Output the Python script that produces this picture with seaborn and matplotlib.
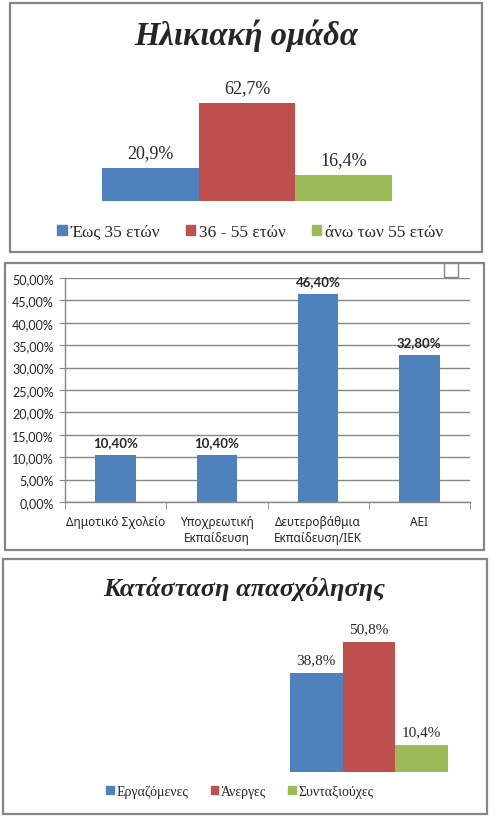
import matplotlib
matplotlib.use("Agg")
import matplotlib.pyplot as plt
import matplotlib.patches as mpatches
from matplotlib.ticker import MultipleLocator, FuncFormatter
import seaborn as sns

# --- data -------------------------------------------------------------
age_groups = ["Έως 35 ετών", "36 - 55 ετών", "άνω των 55 ετών"]
age_values = [20.9, 62.7, 16.4]

edu_levels = ["Δημοτικό Σχολείο", "Υποχρεωτική\nΕκπαίδευση",
              "Δευτεροβάθμια\nΕκπαίδευση/ΙΕΚ", "ΑΕΙ"]
edu_values = [0.104, 0.104, 0.464, 0.328]

work_status = ["Εργαζόμενες", "Άνεργες", "Συνταξιούχες"]
work_values = [38.8, 50.8, 10.4]

# --- style ------------------------------------------------------------
BLUE, RED, GREEN = "#4F81BD", "#C0504D", "#9BBB59"
GREY = "#868686"
SERIF = "Liberation Serif"
SANS = "Noto Sans"
NUM = ["Lato", "DejaVu Sans"]   # digits only, Calibri-like

W, H = 498, 820
sns.set_style("white")
plt.rcParams["font.family"] = [SERIF, "DejaVu Sans"]

fig = plt.figure(figsize=(W / 100, H / 100), dpi=100)


def px_box(left, top, right, bottom):
    """pixel box -> figure fraction rect"""
    return [left / W, 1 - bottom / H, (right - left) / W, (bottom - top) / H]


def frame(left, top, right, bottom):
    l, b, w, h = px_box(left, top, right, bottom)
    fig.patches.append(mpatches.Rectangle((l, b), w, h, transform=fig.transFigure,
                                          fill=False, edgecolor=GREY, lw=1.6))


def pct(v, decimals=1):
    return f"{v:.{decimals}f}%".replace(".", ",")


def grouped_panel(ax, cats, vals, ymax, label_size):
    sns.barplot(x=cats, y=vals, hue=cats, palette=[BLUE, RED, GREEN],
                width=1.0, saturation=1, legend=False, linewidth=0, ax=ax)
    ax.set_xlim(-0.5, 2.5)
    ax.set_ylim(0, ymax)
    ax.axis("off")
    for cont, v in zip(ax.containers, vals):
        ax.bar_label(cont, labels=[pct(v)], padding=5, fontsize=label_size,
                     family=SERIF)


def legend_row(cats, x, y, size, spacing):
    handles = [mpatches.Patch(color=c) for c in (BLUE, RED, GREEN)]
    fig.legend(handles, cats, loc="center", bbox_to_anchor=(x / W, 1 - y / H),
               ncol=3, frameon=False, handlelength=0.55, handleheight=0.55,
               handletextpad=0.2, columnspacing=spacing,
               prop={"family": SERIF, "size": size})


# --- panel 1: age group ----------------------------------------------
frame(10, 4, 482, 253)
fig.text(246 / W, 1 - 36 / H, "Ηλικιακή ομάδα", ha="center", va="center",
         family=SERIF, fontsize=23.5, fontweight="bold", style="italic")
ax1 = fig.add_axes(px_box(102, 80, 392, 202))
grouped_panel(ax1, age_groups, age_values, 78, 13)
legend_row(age_groups, 250, 233, 12.5, 1.5)

# --- panel 2: education ----------------------------------------------
frame(5, 264, 484, 551)
ax2 = fig.add_axes(px_box(65, 279, 470, 503))
sns.barplot(x=edu_levels, y=edu_values, color=BLUE, saturation=1,
            width=0.4, linewidth=0, ax=ax2)
ax2.set_ylim(0, 0.5)
ax2.set_xlim(-0.5, len(edu_levels) - 0.5)
ax2.yaxis.set_major_locator(MultipleLocator(0.05))
ax2.yaxis.set_major_formatter(FuncFormatter(lambda v, _: pct(v * 100, 2)))
ax2.grid(axis="y", color=GREY, lw=1)
ax2.set_axisbelow(True)
for side in ("top", "right"):
    ax2.spines[side].set_visible(False)
for side in ("left", "bottom"):
    ax2.spines[side].set_color(GREY)
    ax2.spines[side].set_linewidth(1)
ax2.tick_params(axis="y", left=True, length=4, color=GREY, pad=4,
                labelsize=9)
for lab in ax2.get_yticklabels():
    lab.set_family(NUM)
ax2.set_xticks([i + 0.5 for i in range(-1, len(edu_levels))], minor=True)
ax2.tick_params(axis="x", which="minor", bottom=True, length=5, color=GREY)
ax2.tick_params(axis="x", which="major", bottom=False, pad=6,
                labelsize=8.5, labelfontfamily=SANS)
for lab in ax2.get_xticklabels():
    lab.set_linespacing(1.25)
ax2.set_xlabel("")
ax2.bar_label(ax2.containers[0], labels=[pct(v * 100, 2) for v in edu_values],
              padding=5, fontsize=9.5, fontweight="bold", family=NUM)
# leftover empty legend box in the corner
l, b, w, h = px_box(444, 264, 458, 278)
fig.patches.append(mpatches.Rectangle((l, b), w, h, transform=fig.transFigure,
                                      facecolor="white", edgecolor=GREY, lw=1))

# --- panel 3: employment status ---------------------------------------
frame(3, 560, 487, 815)
fig.text(244 / W, 1 - 589 / H, "Κατάσταση απασχόλησης", ha="center",
         va="center", family=SERIF, fontsize=19, fontweight="bold",
         style="italic")
ax3 = fig.add_axes(px_box(290, 620, 448, 773))
grouped_panel(ax3, work_status, work_values, 60, 11)
legend_row(work_status, 240, 792, 10, 1.6)

fig.savefig("out.png", dpi=100)
